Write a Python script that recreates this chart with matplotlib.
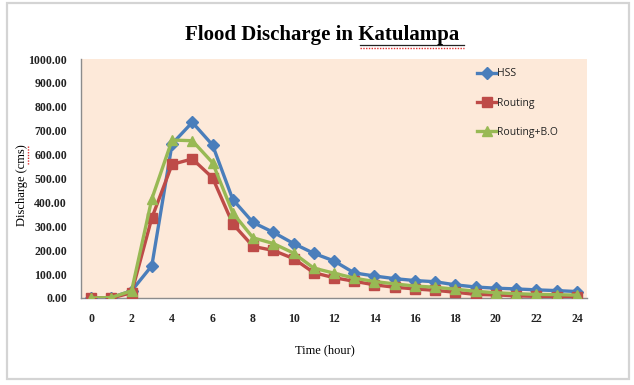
import matplotlib
matplotlib.use('Agg')
import matplotlib.pyplot as plt
from matplotlib.patches import Rectangle

# discharge hydrograph at Katulampa, hourly
hours = list(range(25))
hss = [0, 2, 30, 135, 645, 735, 640, 412, 316, 275, 228, 187, 155, 105, 92,
       81, 73, 68, 55, 46, 41, 38, 34, 31, 27]
routing = [0, 0, 22, 335, 559, 582, 503, 310, 216, 199, 165, 106, 85, 70, 55,
           45, 38, 32, 24, 15, 13, 9, 7, 6, 5]
routing_bo = [0, 2, 30, 415, 661, 658, 566, 356, 252, 228, 188, 125, 104, 83, 69,
              59, 50, 45, 37, 28, 22, 18, 15, 14, 12]
yticks = [0, 100, 200, 300, 400, 500, 600, 700, 800, 900, 1000]
xticks = list(range(0, 25, 2))

W, H = 634, 385
fig = plt.figure(figsize=(W/100, H/100), dpi=100)

# grey frame round the chart object
fig.patches.append(Rectangle((7/W, 6/H), 622/W, 376/H, transform=fig.transFigure,
                             fill=False, edgecolor='#d4d4d4', lw=1.6))

ax = fig.add_axes([81/W, (H-298)/H, (587-81)/W, (298-59)/H])
ax.set_facecolor('#fde9d9')

ax.plot(hours, hss, color='#4a7ebb', lw=2.4, marker='D', ms=6,
        mfc='#4a7ebb', mec='#4a7ebb', label='HSS', zorder=3)
ax.plot(hours, routing, color='#be4b48', lw=2.4, marker='s', ms=7.5,
        mfc='#be4b48', mec='#be4b48', label='Routing', zorder=4)
ax.plot(hours, routing_bo, color='#98b954', lw=2.4, marker='^', ms=7.5,
        mfc='#98b954', mec='#98b954', label='Routing+B.O', zorder=5)

ax.set_xlim(-0.5, 24.5)
ax.set_ylim(0, 1000)
ax.set_xticks(xticks)
ax.set_yticks(yticks)
ax.set_yticklabels(['%.2f' % v for v in yticks])
ax.tick_params(length=0, labelsize=8.5, pad=10)
for lab in ax.get_xticklabels() + ax.get_yticklabels():
    lab.set_family('Liberation Serif')
    lab.set_fontweight('bold')
    lab.set_color('#222222')
ax.tick_params(axis='x', pad=11)

for s in ['top', 'right']:
    ax.spines[s].set_visible(False)
for s in ['left', 'bottom']:
    ax.spines[s].set_color('#8c8c8c')
    ax.spines[s].set_linewidth(1)

leg = ax.legend(loc='upper left', bbox_to_anchor=(0.765, 1.0), frameon=False,
                handlelength=1.8, handletextpad=0.1, labelspacing=1.75,
                prop={'family': 'Open Sans', 'size': 7.5})
for t in leg.get_texts():
    t.set_color('#222222')

# titles and axis names
fig.text(322/W, 1-35/H, 'Flood Discharge in Katulampa', ha='center', va='center',
         family='Liberation Serif', fontweight='bold', fontsize=15)
fig.text(325/W, 1-350/H, 'Time (hour)', ha='center', va='center',
         family='Liberation Serif', fontsize=9)
fig.text(22/W, 1-185/H, 'Discharge (cms)', ha='center', va='center', rotation=90,
         family='Liberation Serif', fontsize=9)

# spell-check squiggles under the unknown words
fig.add_artist(plt.Line2D([360/W, 464/W], [1-45/H, 1-45/H], color='#222222', lw=0.9))
fig.add_artist(plt.Line2D([360/W, 464/W], [1-48/H, 1-48/H], color='#e03030', lw=1,
                          ls=(0, (1, 1))))
fig.add_artist(plt.Line2D([28/W, 28/W], [1-146/H, 1-165/H], color='#e03030', lw=1,
                          ls=(0, (1, 1))))

fig.savefig('out.png', dpi=100)
